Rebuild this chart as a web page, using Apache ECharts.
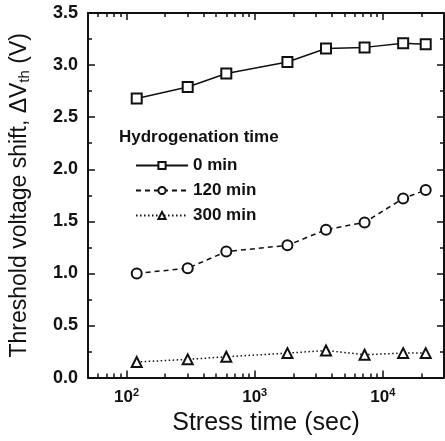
<!DOCTYPE html>
<html>
<head>
<meta charset="utf-8">
<script src="https://cdn.jsdelivr.net/npm/echarts@6/dist/echarts.min.js"></script>
<style>
html, body { margin: 0; padding: 0; background: #fff; }
#chart { width: 445px; height: 441px; }
</style>
</head>
<body>
<div id="chart"></div>
<script>
// stress time (sec) and threshold voltage shift (V) per hydrogenation time
var stressTime = [120, 300, 600, 1800, 3600, 7200, 14400, 21600];
var shift0 = [2.68, 2.79, 2.92, 3.03, 3.16, 3.17, 3.21, 3.20];
var shift120 = [1.00, 1.05, 1.21, 1.27, 1.42, 1.49, 1.72, 1.80];
var shift300 = [0.15, 0.175, 0.20, 0.235, 0.26, 0.22, 0.235, 0.235];
var seriesNames = ['0 min', '120 min', '300 min'];
var majorX = [100, 1000, 10000];
var minorX = [60, 70, 80, 90, 200, 300, 400, 500, 600, 700, 800, 900,
	2000, 3000, 4000, 5000, 6000, 7000, 8000, 9000, 20000];

var font = 'Liberation Sans, Arial, sans-serif';
var ink = '#111';

function pairs(xs, ys) {
	var out = [];
	for (var i = 0; i < xs.length; i++) {
		out.push([xs[i], ys[i]]);
	}
	return out;
}

function tickAxis(pos, values, len, withLine) {
	return {
		type: 'log',
		logBase: 10,
		min: 50,
		max: 30000,
		position: pos,
		axisLine: { show: withLine, lineStyle: { color: ink, width: 2 } },
		axisTick: { show: true, inside: true, length: len, customValues: values,
			lineStyle: { color: ink, width: 1.5 } },
		axisLabel: { show: false },
		splitLine: { show: false },
		minorTick: { show: false }
	};
}

var xBottom = tickAxis('bottom', majorX, 7, true);
xBottom.axisLabel = {
	show: true,
	customValues: majorX,
	margin: 10,
	formatter: function(v) {
		return '{b|10}{s|' + Math.round(Math.log10(v)) + '}';
	},
	rich: {
		b: { fontFamily: font, fontSize: 17, fontWeight: 'bold', color: ink },
		s: { fontFamily: font, fontSize: 11, fontWeight: 'bold', color: ink, padding: [0, 0, 9, 0] }
	}
};
xBottom.name = 'Stress time (sec)';
xBottom.nameLocation = 'middle';
xBottom.nameGap = 32;
xBottom.nameTextStyle = { fontFamily: font, fontSize: 25, color: ink };

var xTop = tickAxis('top', majorX, 7, true);

function yAxisDef(pos, withLabel) {
	var ax = {
		type: 'value',
		min: 0,
		max: 3.5,
		interval: 0.5,
		position: pos,
		axisLine: { show: true, lineStyle: { color: ink, width: 2 } },
		axisTick: { show: true, inside: true, length: 7, lineStyle: { color: ink, width: 1.5 } },
		minorTick: { show: true, splitNumber: 2, length: 4, lineStyle: { color: ink, width: 1.5 } },
		splitLine: { show: false },
		axisLabel: { show: false }
	};
	if (withLabel) {
		ax.axisLabel = {
			show: true,
			margin: 10,
			fontFamily: font,
			fontSize: 18,
			fontWeight: 'bold',
			color: ink,
			formatter: function(v) { return v.toFixed(1); }
		};
		ax.name = 'Threshold voltage shift, \u0394V{sub|th} (V)';
		ax.nameLocation = 'middle';
		ax.nameGap = 56;
		ax.nameTextStyle = {
			fontFamily: font, fontSize: 23, color: ink,
			rich: { sub: { fontFamily: font, fontSize: 15, color: ink, padding: [10, 0, 0, 0] } }
		};
	}
	return ax;
}

var chart = echarts.init(document.getElementById('chart'));
var option = {
	animation: false,
	backgroundColor: '#fff',
	grid: { left: 86, right: 1, top: 13, bottom: 62 },
	title: {
		text: 'Hydrogenation time',
		left: 119,
		top: 129,
		padding: 0,
		textStyle: { fontFamily: font, fontSize: 17, fontWeight: 'bold', color: ink }
	},
	legend: {
		orient: 'vertical',
		left: 135,
		top: 157,
		padding: 0,
		itemWidth: 52,
		itemHeight: 9,
		itemGap: 8,
		data: seriesNames,
		textStyle: { fontFamily: font, fontSize: 17, fontWeight: 'bold', color: ink, lineHeight: 17 }
	},
	xAxis: [
		xBottom,
		tickAxis('bottom', minorX, 4, false),
		xTop,
		tickAxis('top', minorX, 4, false)
	],
	yAxis: [yAxisDef('left', true), yAxisDef('right', false)],
	series: [
		{
			name: seriesNames[0], type: 'line', data: pairs(stressTime, shift0),
			symbol: 'emptyRect', symbolSize: 10,
			itemStyle: { color: ink, borderWidth: 1.6 },
			lineStyle: { color: ink, width: 1.5, type: 'solid' }
		},
		{
			name: seriesNames[1], type: 'line', data: pairs(stressTime, shift120),
			symbol: 'emptyCircle', symbolSize: 10,
			itemStyle: { color: ink, borderWidth: 1.6 },
			lineStyle: { color: ink, width: 1.5, type: [5, 4] }
		},
		{
			name: seriesNames[2], type: 'line', data: pairs(stressTime, shift300),
			symbol: 'emptyTriangle', symbolSize: 10,
			itemStyle: { color: ink, borderWidth: 1.6 },
			lineStyle: { color: ink, width: 1.5, type: [1.5, 2.5] }
		}
	]
};
chart.setOption(option);
</script>
</body>
</html>
